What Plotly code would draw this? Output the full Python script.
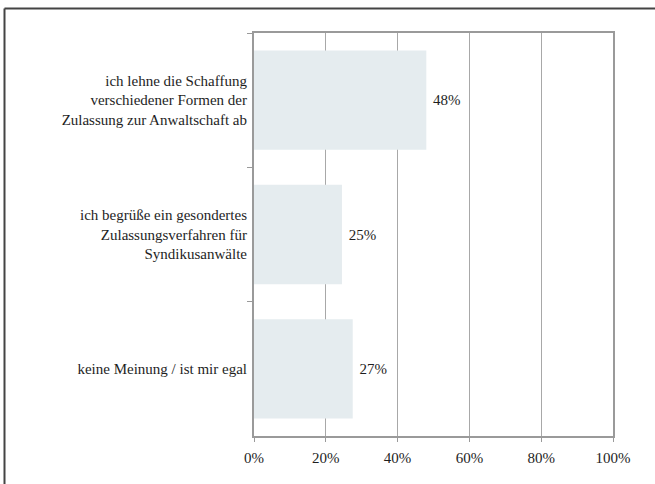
import plotly.graph_objects as go

categories = [
    "ich lehne die Schaffung<br>verschiedener Formen der<br>Zulassung zur Anwaltschaft ab",
    "ich begrüße ein gesondertes<br>Zulassungsverfahren für<br>Syndikusanwälte",
    "keine Meinung / ist mir egal",
]
values = [48.0, 24.5, 27.5]
value_labels = ["48%", "25%", "27%"]
x_ticks = [0, 20, 40, 60, 80, 100]
x_tick_labels = ["0%", "20%", "40%", "60%", "80%", "100%"]

FONT = "Times New Roman, Liberation Serif, Times, serif"
FS = 15

fig = go.Figure(
    go.Bar(
        y=categories,
        x=values,
        orientation="h",
        marker=dict(color="#E5ECEF", line=dict(width=0)),
        text=[" " + t for t in value_labels],
        textposition="outside",
        textfont=dict(family=FONT, size=FS, color="#1E1E1E"),
        cliponaxis=False,
        hoverinfo="skip",
    )
)

W, H = 655, 484
L, R, T, B = 254, 42, 33, 48
pw, ph = W - L - R, H - T - B

def px_x(x):
    return (x - L) / pw

def px_y(y):
    return 1 - (y - T) / ph

fig.update_layout(
    width=W,
    height=H,
    margin=dict(l=L, r=R, t=T, b=B, pad=0),
    paper_bgcolor="white",
    plot_bgcolor="white",
    bargap=0.26,
    showlegend=False,
    font=dict(family=FONT, size=FS, color="#1E1E1E"),
    xaxis=dict(
        range=[0, 100],
        tickvals=x_ticks,
        ticktext=x_tick_labels,
        showgrid=True,
        gridcolor="#A8A8A8",
        gridwidth=1,
        zeroline=False,
        showline=True,
        linecolor="#9A9A9A",
        linewidth=2,
        mirror=True,
        ticks="outside",
        ticklen=4,
        tickcolor="#9A9A9A",
        tickwidth=1,
        ticklabelstandoff=3,
        tickfont=dict(family=FONT, size=FS, color="#1E1E1E"),
    ),
    yaxis=dict(
        autorange="reversed",
        showgrid=False,
        zeroline=False,
        showline=True,
        linecolor="#9A9A9A",
        linewidth=2,
        mirror=True,
        ticks="outside",
        tickson="boundaries",
        ticklen=5,
        tickcolor="#9A9A9A",
        tickwidth=1,
        ticklabelstandoff=2,
        tickfont=dict(family=FONT, size=FS, color="#1E1E1E"),
    ),
    shapes=[
        dict(type="line", xref="paper", yref="paper",
             x0=px_x(4.5), x1=px_x(4.5), y0=px_y(8.5), y1=px_y(490),
             line=dict(color="#444444", width=2), layer="above"),
        dict(type="line", xref="paper", yref="paper",
             x0=px_x(4.5), x1=px_x(660), y0=px_y(8.5), y1=px_y(8.5),
             line=dict(color="#444444", width=2), layer="above"),
    ],
)

fig.write_html(
    "out.html",
    config={"displayModeBar": False, "staticPlot": True},
    post_script="document.body.style.margin='0';document.body.style.overflow='hidden';",
)
